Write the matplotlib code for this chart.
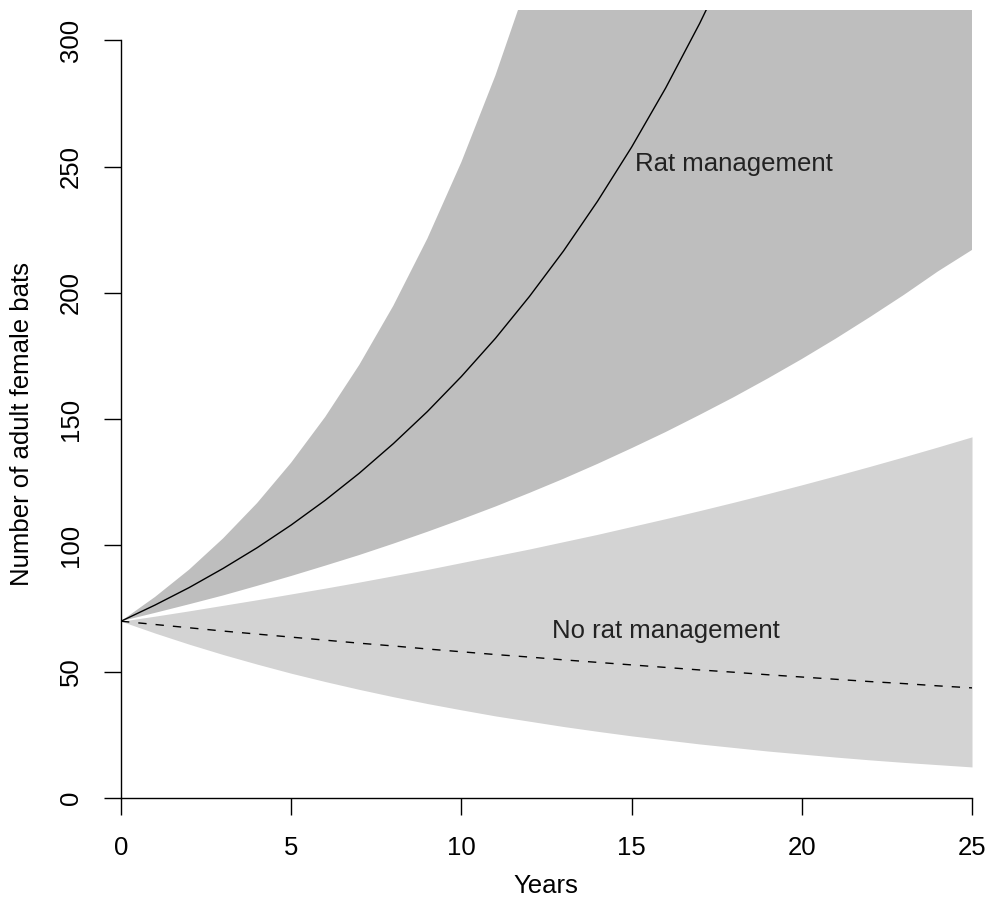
import numpy as np
import matplotlib
matplotlib.use("Agg")
import matplotlib.pyplot as plt

plt.rcParams['font.family'] = ['Liberation Sans', 'DejaVu Sans']

# years 0..25, values (band above ~312 is clipped, estimated)
years = list(range(26))

rat_mean = [70, 76.4, 83.3, 90.9, 99.1, 108.1, 117.9, 128.6, 140.3, 153.0, 166.9,
            182.0, 198.6, 216.6, 236.3, 257.7, 281.1, 306.7, 334.5, 364.9, 398.0,
            434.2, 473.6, 516.6, 563.5, 614.7]
rat_upper = [70, 79.6, 90.4, 102.8, 116.8, 132.8, 150.9, 171.5, 194.9, 221.5, 251.8,
             286.1, 325.2, 369.6, 420, 477, 543, 617, 701, 797, 906,
             1030, 1170, 1330, 1512, 1718]
rat_lower = [70, 73.3, 76.7, 80.2, 84.0, 87.9, 92.0, 96.2, 100.7, 105.4, 110.3,
             115.4, 120.8, 126.4, 132.3, 138.5, 144.9, 151.7, 158.7, 166.1, 173.8,
             181.9, 190.4, 199.2, 208.5, 217.0]

norat_mean = [70, 68.7, 67.4, 66.1, 64.9, 63.7, 62.5, 61.3, 60.2, 59.0, 57.9,
              56.8, 55.8, 54.7, 53.7, 52.7, 51.7, 50.7, 49.8, 48.8, 47.9,
              47.0, 46.1, 45.3, 44.4, 43.6]
norat_upper = [70, 72.0, 74.1, 76.3, 78.5, 80.8, 83.1, 85.5, 88.0, 90.5, 93.2,
               95.9, 98.6, 101.5, 104.4, 107.5, 110.6, 113.8, 117.1, 120.5, 124.0,
               127.6, 131.3, 135.1, 139.0, 143.0]
norat_lower = [70, 65.3, 60.9, 56.8, 53.0, 49.4, 46.1, 43.0, 40.1, 37.4, 34.9,
               32.5, 30.4, 28.3, 26.4, 24.6, 23.0, 21.4, 20.0, 18.6, 17.4,
               16.2, 15.1, 14.1, 13.2, 12.3]

W, H = 991, 907
fig = plt.figure(figsize=(W / 100, H / 100), dpi=100)
ax = fig.add_axes([121 / W, (H - 798) / H, 851 / W, 788 / H])

ax.fill_between(years, rat_lower, rat_upper, color='#bebebe', lw=0)
ax.fill_between(years, norat_lower, norat_upper, color='#d3d3d3', lw=0)
ax.plot(years, rat_mean, color='black', lw=1.0)
ax.plot(years, norat_mean, color='black', lw=1.0, ls=(0, (6, 6.5)))

ax.text(18, 251, 'Rat management', ha='center', va='center', fontsize=18.5, color='#222222')
ax.text(16, 66, 'No rat management', ha='center', va='center', fontsize=18.5, color='#222222')

ax.set_xlim(0, 25)
ax.set_ylim(0, 312)
ax.set_xticks([0, 5, 10, 15, 20, 25])
ax.set_yticks([0, 50, 100, 150, 200, 250, 300])
ax.spines['top'].set_visible(False)
ax.spines['right'].set_visible(False)
ax.spines['left'].set_bounds(0, 300)
ax.spines['bottom'].set_bounds(0, 25)
for s in ('left', 'bottom'):
    ax.spines[s].set_linewidth(1.0)
    ax.spines[s].set_zorder(5)
ax.tick_params(axis='both', length=12.2, width=1.0, pad=15, labelsize=18.5, colors='black')
ax.tick_params(axis='y', labelrotation=90)
for lab in ax.get_yticklabels():
    lab.set_va('center')
ax.set_facecolor('none')

fig.text(546 / W, 1 - 886 / H, 'Years', ha='center', va='center', fontsize=18.5)
fig.text(22 / W, 1 - 424 / H, 'Number of adult female bats', ha='center', va='center',
         rotation=90, fontsize=18.5)

fig.savefig('out.png', dpi=100)
